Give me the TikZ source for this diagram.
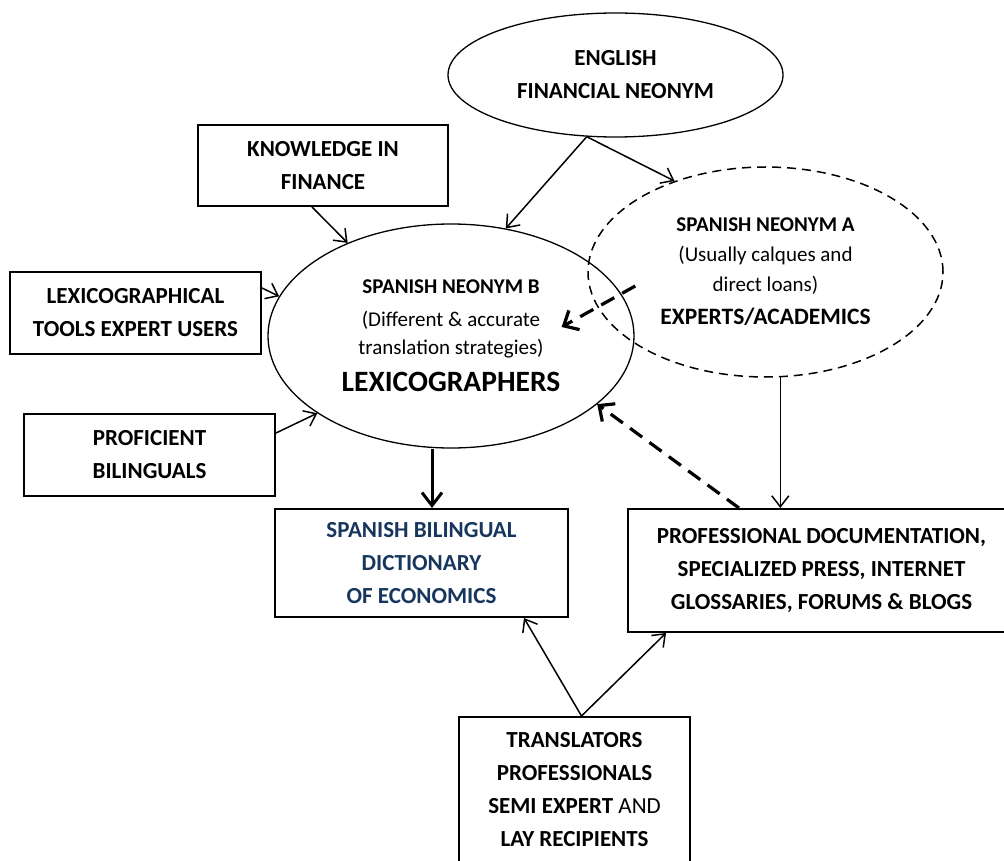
\documentclass[tikz,border=0pt]{standalone}
\usepackage{fontspec}
\setmainfont{Carlito}
\usetikzlibrary{shapes.geometric,arrows.meta,calc}
\definecolor{navy}{HTML}{17365D}
\begin{document}
\begin{tikzpicture}[x=1pt,y=-1pt,
  box/.style={draw,line width=2pt,rectangle,inner sep=0pt,align=center,font=\fontsize{23}{33}\selectfont\bfseries},
  ell/.style={draw,ellipse,line width=1.3pt,inner sep=0pt,align=center},
  dashell/.style={ell,line width=1.5pt,dash pattern=on 9pt off 6pt},
  arr/.style={line width=1.5pt,-{Straight Barb[length=11pt,width=17pt]}},
  thickarr/.style={line width=3pt,-{Straight Barb[length=13pt,width=20pt]}},
  dasharr/.style={line width=3.2pt,dash pattern=on 15pt off 9pt,-{Straight Barb[length=12pt,width=22pt]}}
]
\useasboundingbox (0,0) rectangle (1004,861);

% ellipses
\node[ell,minimum width=335pt,minimum height=124pt,font=\fontsize{23}{33}\selectfont\bfseries] (E) at (615.5,75) {ENGLISH\\FINANCIAL NEONYM};
\node[ell,minimum width=366pt,minimum height=224pt,font=\fontsize{21}{33}\selectfont] (B) at (451,336)
  {\textbf{SPANISH NEONYM B}\\(Different \& accurate\\[-5pt]translation strategies)\\[4pt]{\fontsize{29.5}{33}\selectfont\bfseries LEXICOGRAPHERS}};
\node[dashell,minimum width=355pt,minimum height=210pt,font=\fontsize{21}{30}\selectfont] (A) at (765.5,272)
  {\textbf{SPANISH NEONYM A}\\(Usually calques and\\direct loans)\\[3pt]{\fontsize{23.5}{30}\selectfont\bfseries EXPERTS/ACADEMICS}};

% boxes
\node[box,minimum width=250pt,minimum height=81pt] (K) at (323,165.5) {KNOWLEDGE IN\\FINANCE};
\node[box,minimum width=251pt,minimum height=82pt] (L) at (135.5,313) {LEXICOGRAPHICAL\\TOOLS EXPERT USERS};
\node[box,minimum width=251pt,minimum height=82pt] (P) at (149.5,455) {PROFICIENT\\BILINGUALS};
\node[box,minimum width=293pt,minimum height=108pt,text=navy] (D) at (421.5,563) {SPANISH BILINGUAL\\DICTIONARY\\OF ECONOMICS};
\node[box,minimum width=387pt,minimum height=123pt] (Pr) at (821.5,570.5) {PROFESSIONAL DOCUMENTATION,\\SPECIALIZED PRESS, INTERNET\\GLOSSARIES, FORUMS \& BLOGS};
\node[box,minimum width=231pt,minimum height=146pt] (T) at (574.5,790) {TRANSLATORS\\PROFESSIONALS\\SEMI EXPERT {\mdseries AND}\\LAY RECIPIENTS};

% connectors
\draw[arr] (E.-115) -- (B.63);
\draw[arr] (E.-115) -- (A.135);
\draw[arr] ($(K.south)+(-11,0)$) -- (B.138);
\draw[arr] ($(L.east)+(0,-25)$) -- (B.167);
\draw[arr] ($(P.east)+(0,-22)$) -- (B.210);
\draw[thickarr] ($(B.south)+(-19,0)$) -- ($(D.north)+(10.5,0)$);
\draw[arr] (A.-82) -- (A.-82 |- Pr.north);
\draw[dasharr] ($(Pr.north west)+(112,0)$) -- (B.-25);
\draw[dasharr] ($(A.west)+(48,14)$) -- ($(B.east)+(-73,-9)$);
\draw[arr] ($(T.north)+(7,0)$) -- ($(D.south east)+(-45,0)$);
\draw[arr] ($(T.north)+(7,0)$) -- ($(Pr.south west)+(39,0)$);
\end{tikzpicture}
\end{document}
